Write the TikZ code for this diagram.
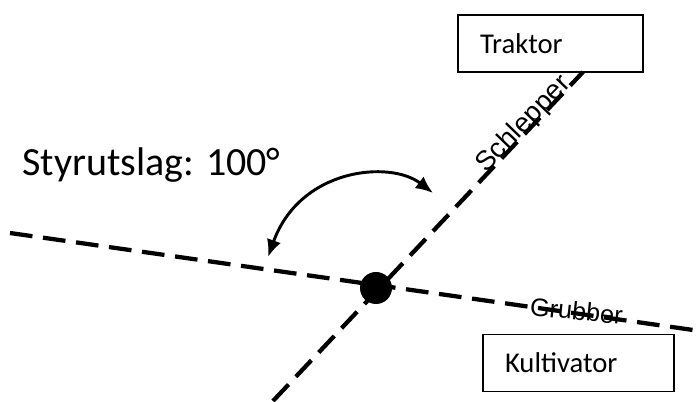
\documentclass[tikz,border=0pt]{standalone}
\usepackage{fontspec}
\setmainfont{Carlito}
\newfontfamily\arialfont{Liberation Sans}
\usetikzlibrary{arrows.meta}
\begin{document}
\begin{tikzpicture}[x=0.75pt, y=-0.75pt,
    box/.style = {draw, line width=1.2pt, minimum height=42.75pt,
      inner xsep=16.5pt, align=left, font=\fontsize{21.5}{26}\selectfont},
    axis/.style = {line width=3.2pt, dash pattern=on 17pt off 8pt},
    lbl/.style = {inner sep=0pt, anchor=base west, font=\arialfont\fontsize{19}{23}\selectfont}]
  \useasboundingbox (0,0) rectangle (700,402);
  \node[box, text width=105.75pt] (traktor) at (550.5,43.5) {Traktor};
  \node[box, text width=110.25pt] (kultivator) at (578.5,363) {Kultivator};
  % Achsen
  \coordinate (schlepperunten) at (273,401);
  \coordinate (schlepperoben) at (583,72);
  \coordinate (grubberlinks) at (10,233);
  \coordinate (grubberrechts) at (693,330);
  \draw[axis] (schlepperunten) -- (schlepperoben);
  \draw[axis] (grubberlinks) -- (grubberrechts);
  \node[circle, fill, minimum size=24pt, inner sep=0pt] (kupplung) at (376,288) {};
  \node[lbl, rotate=46, font=\arialfont\fontsize{20.5}{24}\selectfont] (schlepper) at (486,174) {Schlepper};
  \node[lbl, rotate=-6] (grubber) at (529,315) {Grubber};
  % Winkel
  \node[anchor=base west, inner sep=0pt, font=\fontsize{30}{36}\selectfont] (styrutslag) at (22,176) {Styrutslag: 100°};
  \coordinate (links) at (268,257);
  \coordinate (rechts) at (433,193);
  \draw[line width=2.2pt, {Latex[length=13pt,width=11pt]}-{Latex[length=13pt,width=11pt]}]
    (links) .. controls (300,168) and (390,160) .. (rechts);
\end{tikzpicture}
\end{document}
